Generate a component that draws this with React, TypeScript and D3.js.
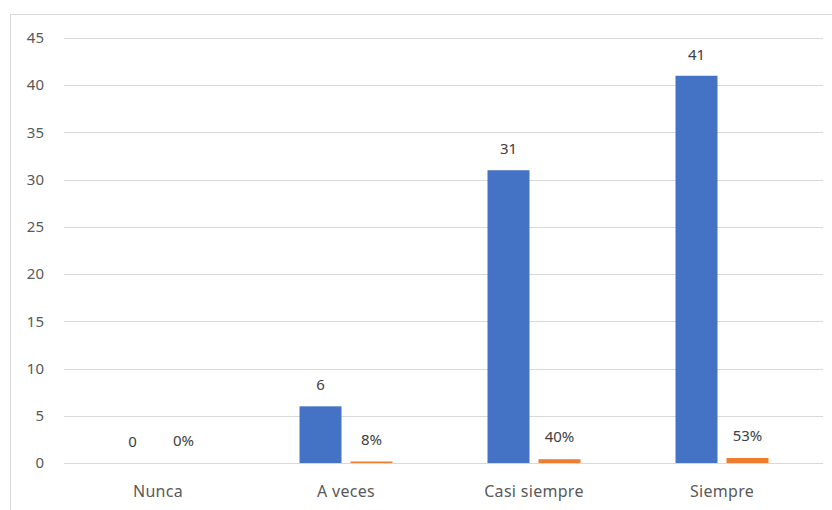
import React from "react";
import * as d3 from "d3";

const categories = ["Nunca", "A veces", "Casi siempre", "Siempre"];
const counts = [0, 6, 31, 41];
const shares = [0, 0.08, 0.4, 0.53];
const shareLabels = ["0%", "8%", "40%", "53%"];
const yTicks = [0, 5, 10, 15, 20, 25, 30, 35, 40, 45];

const W = 832;
const H = 510;
const plot = { left: 64, right: 816, top: 38, bottom: 463 };

export default function App() {
  const x = d3
    .scaleBand<string>()
    .domain(categories)
    .range([plot.left, plot.right])
    .paddingInner(0)
    .paddingOuter(0);
  const y = d3.scaleLinear().domain([0, 45]).range([plot.bottom, plot.top]);
  const barW = 42;
  const gap = 9;
  const font = "'Noto Sans', 'Open Sans', 'DejaVu Sans', sans-serif";

  return (
    <svg
      width={W}
      height={H}
      style={{ position: "absolute", left: 0, top: 0, background: "#fff" }}
      fontFamily={font}
    >
      <rect x={0} y={0} width={W} height={H} fill="#fff" />
      <line x1={10} y1={14.5} x2={W} y2={14.5} stroke="#d9d9d9" />
      <line x1={10.5} y1={14} x2={10.5} y2={H} stroke="#d9d9d9" />
      {yTicks.map((t) => (
        <g key={t}>
          <line
            x1={plot.left}
            x2={plot.right + 7}
            y1={Math.round(y(t)) + 0.5}
            y2={Math.round(y(t)) + 0.5}
            stroke="#d9d9d9"
            strokeWidth={1.2}
          />
          <text
            x={44}
            y={y(t)}
            dy="0.35em"
            textAnchor="end"
            fontSize={15}
            fill="#595959"
          >
            {t}
          </text>
        </g>
      ))}
      {categories.map((c, i) => {
        const cx = (x(c) as number) + x.bandwidth() / 2;
        const bx = cx - gap / 2 - barW;
        const ox = cx + gap / 2;
        const by = y(counts[i]);
        const oy = y(shares[i]);
        return (
          <g key={c}>
            {counts[i] > 0 && (
              <rect
                x={bx}
                y={by}
                width={barW}
                height={plot.bottom - by}
                fill="#4472C4"
              />
            )}
            {shares[i] > 0 && (
              <rect
                x={ox}
                y={Math.min(oy, plot.bottom - 1.5)}
                width={barW}
                height={Math.max(plot.bottom - oy, 1.5)}
                fill="#ED7D31"
              />
            )}
            <text
              x={bx + barW / 2}
              y={by - 16}
              textAnchor="middle"
              fontSize={15}
              fill="#404040"
            >
              {counts[i]}
            </text>
            <text
              x={ox + barW / 2}
              y={oy - 17}
              textAnchor="middle"
              fontSize={15}
              fill="#404040"
            >
              {shareLabels[i]}
            </text>
            <text
              x={cx}
              y={497}
              textAnchor="middle"
              fontSize={16}
              letterSpacing={0.3}
              fill="#595959"
            >
              {c}
            </text>
          </g>
        );
      })}
    </svg>
  );
}
